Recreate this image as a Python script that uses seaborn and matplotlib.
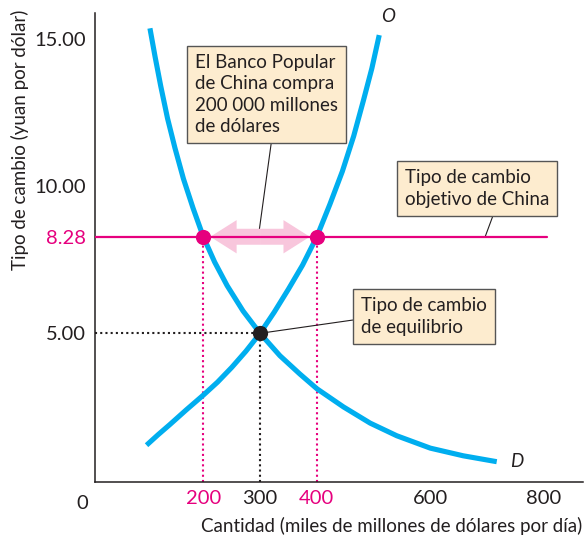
import numpy as np
import pandas as pd
import seaborn as sns
import matplotlib.pyplot as plt
from matplotlib.patches import FancyArrowPatch

# curva de demanda D
demanda_x = [106, 115, 125, 137, 150, 165, 182, 200, 220, 242, 270, 300, 335, 370,
             400, 447, 494, 541, 600, 658, 717]
demanda_y = [15.36, 14.4, 13.4, 12.3, 11.3, 10.25, 9.25, 8.28, 7.42, 6.62, 5.76, 5.0,
             4.24, 3.62, 3.12, 2.50, 1.95, 1.52, 1.1, 0.84, 0.64]

# curva de oferta O
oferta_x = [100, 120, 141, 170, 200, 225, 250, 275, 300, 325, 350, 375, 400, 423,
            445, 465, 482, 497, 510]
oferta_y = [1.2, 1.55, 1.9, 2.4, 2.9, 3.34, 3.84, 4.39, 5.0, 5.72, 6.5, 7.32, 8.28,
            9.38, 10.5, 11.7, 12.9, 14.0, 15.13]

tipo_objetivo = 8.28
linea_objetivo_fin = 806
tipo_equilibrio = 5.0
cantidad_equilibrio = 300
cantidades_objetivo = [200, 400]

xticks = [200, 300, 400, 600, 800]
xtick_labels = ['200', '300', '400', '600', '800']
yticks = [5, 8.28, 10, 15]
ytick_labels = ['5.00', '8.28', '10.00', '15.00']

azul = '#00AEEF'
magenta = '#E6007E'
rosa = '#F8C6DC'
negro = '#231F20'
crema = '#FDECCF'

sns.set_style('white')
plt.rcParams['font.family'] = ['Lato', 'DejaVu Sans']
fs = 13.5
fs_ticks = 14.5

fig = plt.figure(figsize=(5.88, 5.43), dpi=100)
ax = fig.add_axes([95 / 588, 61 / 543, 488 / 588, 469 / 543])
x0, x1 = 9.2, 869
y0, y1 = -0.05, 15.88
ax.set_xlim(x0, x1)
ax.set_ylim(y0, y1)

# curvas
for cx, cy in [(demanda_x, demanda_y), (oferta_x, oferta_y)]:
    sns.lineplot(x=cx, y=cy, ax=ax, color=azul, lw=3.7, sort=False,
                 solid_capstyle='butt', solid_joinstyle='round', zorder=3)

# lineas punteadas
punteado = (0, (1, 1.5))
for q in cantidades_objetivo:
    ax.plot([q, q], [y0, tipo_objetivo], color=magenta, lw=1.5, ls=punteado, zorder=2)
ax.plot([cantidad_equilibrio, cantidad_equilibrio], [y0, tipo_equilibrio], color=negro,
        lw=1.5, ls=punteado, zorder=2)
ax.plot([x0, cantidad_equilibrio], [tipo_equilibrio, tipo_equilibrio], color=negro,
        lw=1.5, ls=punteado, zorder=2)

# flecha doble rosa
centro = np.mean(cantidades_objetivo)
for q in cantidades_objetivo:
    ax.add_patch(FancyArrowPatch((centro, tipo_objetivo), (q, tipo_objetivo),
                                 arrowstyle='simple,head_length=19,head_width=24,tail_width=11.5',
                                 mutation_scale=1, shrinkA=0, shrinkB=5, color=rosa, lw=0, zorder=4))

# tipo de cambio objetivo
sns.lineplot(x=[x0, linea_objetivo_fin], y=[tipo_objetivo, tipo_objetivo], ax=ax,
             color=magenta, lw=1.6, zorder=5)

# puntos
sns.scatterplot(x=cantidades_objetivo, y=[tipo_objetivo] * 2, ax=ax, color=magenta,
                s=120, linewidth=0, zorder=6)
sns.scatterplot(x=[cantidad_equilibrio], y=[tipo_equilibrio], ax=ax, color=negro,
                s=120, linewidth=0, zorder=6)

# cajas
caja = dict(boxstyle='square,pad=0.42', fc=crema, ec='#555555', lw=1)
flecha = dict(arrowstyle='-', color=negro, lw=0.8, shrinkA=0, shrinkB=0)
ax.annotate('El Banco Popular\nde China compra\n200 000 millones\nde dólares',
            xy=(297, tipo_objetivo), xytext=(311.5, 13.11), ha='center', va='center',
            multialignment='left', fontsize=fs, color=negro, bbox=caja, linespacing=1.32,
            arrowprops=dict(flecha, relpos=(0.54, 0)), zorder=3)
ax.annotate('Tipo de cambio\nobjetivo de China',
            xy=(696.6, tipo_objetivo), xytext=(682.5, 9.92), ha='center', va='center',
            multialignment='left', fontsize=fs, color=negro, bbox=caja, linespacing=1.32,
            arrowprops=dict(flecha, relpos=(0.63, 0)), zorder=3)
ax.annotate('Tipo de cambio\nde equilibrio',
            xy=(cantidad_equilibrio, tipo_equilibrio), xytext=(589, 5.57), ha='center', va='center',
            multialignment='left', fontsize=fs, color=negro, bbox=caja, linespacing=1.32,
            arrowprops=dict(flecha, relpos=(0, 0.44)), zorder=5)

# etiquetas de curvas
ax.text(525.6, 15.75, 'O', fontsize=fs, style='italic', color=negro, ha='center', va='center')
ax.text(740.7, 0.66, 'D', fontsize=fs, style='italic', color=negro, ha='left', va='center')

# ejes
for s in ['top', 'right']:
    ax.spines[s].set_visible(False)
for s in ['left', 'bottom']:
    ax.spines[s].set_color(negro)
    ax.spines[s].set_linewidth(1.1)

ax.set_xticks(xticks)
ax.set_xticklabels(xtick_labels)
ax.set_yticks(yticks)
ax.set_yticklabels(ytick_labels)
ax.tick_params(axis='both', direction='in', length=6.5, width=1, color=negro,
               labelsize=fs_ticks, labelcolor=negro)
ax.tick_params(axis='x', pad=6)
ax.tick_params(axis='y', pad=6.5)
for i, t in enumerate(ax.xaxis.get_major_ticks()):
    if xticks[i] in (200, 300, 400):
        t.tick1line.set_visible(False)
    if xticks[i] in cantidades_objetivo:
        t.label1.set_color(magenta)
for i, t in enumerate(ax.yaxis.get_major_ticks()):
    if yticks[i] in (5, 8.28):
        t.tick1line.set_visible(False)
    if yticks[i] == tipo_objetivo:
        t.label1.set_color(magenta)

ax.text(-0.0266, -0.0448, '0', transform=ax.transAxes, fontsize=fs_ticks, color=negro,
        ha='center', va='center')

ax.set_xlabel('Cantidad (miles de millones de dólares por día)', fontsize=fs, color=negro)
ax.xaxis.set_label_coords(0.607, -0.075)
ax.set_ylabel('Tipo de cambio (yuan por dólar)', fontsize=fs, color=negro)
ax.yaxis.set_label_coords(-0.135, 0.729)

fig.savefig('out.png', dpi=100)
